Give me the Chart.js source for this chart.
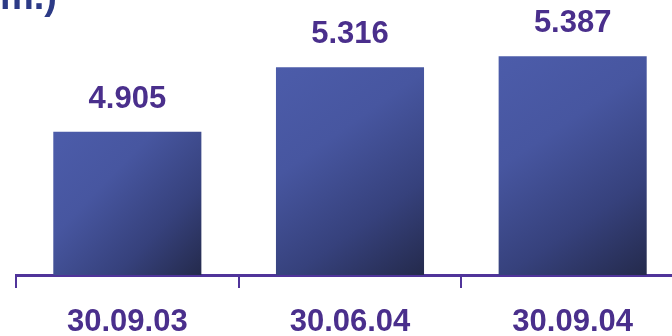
<!DOCTYPE html>
<html>
<head>
<meta charset="utf-8">
<script src="https://cdn.jsdelivr.net/npm/chart.js@4.4.1/dist/chart.umd.min.js"></script>
<style>
  html, body { margin: 0; padding: 0; background: #ffffff; }
  #wrap { position: relative; width: 672px; height: 336px; overflow: hidden; }
  #chart { position: absolute; left: 0; top: 0; }
  #unit { position: absolute; right: 615px; top: -23px; white-space: nowrap;
          font: bold 38px "Liberation Sans", Arial, sans-serif; line-height: 38px; color: #2c3a86; }
</style>
</head>
<body>
<div id="wrap">
  <canvas id="chart" width="700" height="336"></canvas>
  <div id="unit">(EUR m.)</div>
</div>
<script>
const categories = ["30.09.03", "30.06.04", "30.09.04"];
const values = [4.905, 5.316, 5.387];
const valueLabels = ["4.905", "5.316", "5.387"];

const PURPLE = "#4a2f8c";
const AXIS = "#50349a";
const FONT = "'Liberation Sans', Arial, sans-serif";
const Y_MIN = 3.989, Y_MAX = 5.746;

function barFill(ctx) {
  const chart = ctx.chart;
  const xs = chart.scales && chart.scales.x, ys = chart.scales && chart.scales.y;
  if (!xs || !ys || !chart.chartArea || ctx.raw === undefined) return "#3f4c92";
  const cx = xs.getPixelForValue(ctx.dataIndex);
  const half = xs.width / categories.length * 0.665 / 2;
  const top = ys.getPixelForValue(ctx.raw);
  const bottom = ys.getPixelForValue(Y_MIN);
  const g = chart.ctx.createLinearGradient(cx - half, top, cx + half, bottom);
  g.addColorStop(0, "#4c5caa");
  g.addColorStop(0.35, "#4756a0");
  g.addColorStop(0.7, "#36417c");
  g.addColorStop(1, "#242a4c");
  return g;
}

const valueLabelPlugin = {
  id: "valueLabels",
  afterDatasetsDraw(chart) {
    const c = chart.ctx;
    const meta = chart.getDatasetMeta(0);
    c.save();
    c.font = "bold 31px " + FONT;
    c.fillStyle = PURPLE;
    c.textAlign = "center";
    c.textBaseline = "alphabetic";
    meta.data.forEach((bar, i) => {
      c.fillText(valueLabels[i], bar.x, bar.y - 24);
    });
    c.restore();
  }
};

new Chart(document.getElementById("chart"), {
  type: "bar",
  data: {
    labels: categories,
    datasets: [{
      data: values,
      backgroundColor: barFill,
      borderWidth: 0,
      categoryPercentage: 1,
      barPercentage: 0.665
    }]
  },
  options: {
    responsive: false,
    animation: false,
    layout: { padding: { left: 16, right: 16, top: 0, bottom: 0 } },
    plugins: { legend: { display: false }, tooltip: { enabled: false } },
    scales: {
      y: { display: false, min: Y_MIN, max: Y_MAX },
      x: {
        afterFit(scale) { scale.height = 61; },
        grid: { display: true, drawOnChartArea: false, drawTicks: true, tickLength: 13,
                color: AXIS, lineWidth: 2, offset: true },
        border: { display: true, color: AXIS, width: 3 },
        ticks: { color: PURPLE, padding: 16, font: { family: FONT, size: 31, weight: "bold" } }
      }
    }
  },
  plugins: [valueLabelPlugin]
});
</script>
</body>
</html>
